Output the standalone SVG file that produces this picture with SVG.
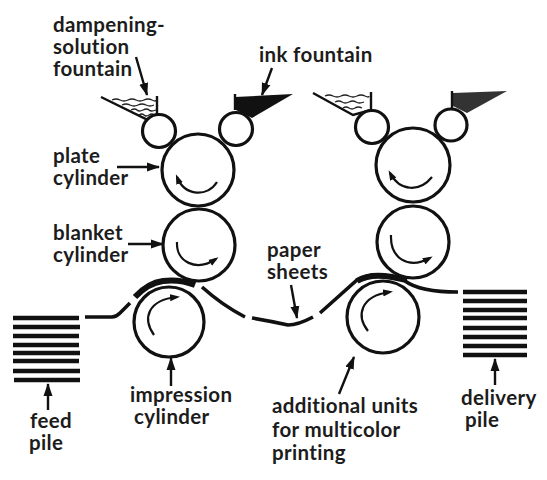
<svg xmlns="http://www.w3.org/2000/svg" width="547" height="480" viewBox="0 0 547 480">
<style>
text{font-family:"Lato","Open Sans",sans-serif;font-size:20.5px;font-weight:700;letter-spacing:.35px;fill:#1c1c1c}
.c{fill:#fff;stroke:#111;stroke-width:3.2}
.a{fill:none;stroke:#111;stroke-width:2.2}
.l{fill:none;stroke:#111;stroke-width:2.4}
.p{fill:none;stroke:#111;stroke-width:3.6}
.t{fill:none;stroke:#111;stroke-width:6}
.s{fill:none;stroke:#111;stroke-width:4.5}
.w{fill:none;stroke:#222;stroke-width:1.3}
.h{fill:#111}
.d{fill:#333}
</style>
<defs>
<marker id="m" markerUnits="userSpaceOnUse" markerWidth="13" markerHeight="10" refX="12" refY="5" orient="auto"><path d="M0 0.5L13 5L0 9.5z" fill="#111"/></marker>
<marker id="n" markerUnits="userSpaceOnUse" markerWidth="10" markerHeight="8" refX="7" refY="4" orient="auto-start-reverse"><path d="M0 0.5L10 4L0 7.5z" fill="#111"/></marker>
</defs>
<rect width="547" height="480" fill="#fff"/>
<g id="connectors">
<path class="l" marker-end="url(#m)" d="M136 57L147 95"/>
<path class="l" marker-end="url(#m)" d="M272 68L262 95"/>
<path class="l" marker-end="url(#m)" d="M117 167L159 167"/>
<path class="l" marker-end="url(#m)" d="M128 244L163 244"/>
<path class="l" marker-end="url(#m)" d="M171 386L171 358"/>
<path class="l" marker-end="url(#m)" d="M48 410L48 384"/>
<path class="l" marker-end="url(#m)" d="M291 285L297 318"/>
<path class="l" marker-end="url(#m)" d="M339 394L354 357"/>
<path class="l" marker-end="url(#m)" d="M495 385L495 359"/>
</g>
<g id="dampening-fountain-1">
<path class="l" d="M101 97L148 120L157 114V96"/>
<path class="w" d="M112 100q4-2 8 0t8 0t8 0t8 0t8 0t4 0M122 105q4-2 8 0t8 0t8 0t8 0M131 110q4-2 6 0t6 0t6 0t7 0M139 115q3-2 5 0t5 0t5 0"/>
</g>
<g id="ink-fountain-1">
<path class="h" d="M235 97L293 94L252 118L236 110z"/>
<path class="l" d="M235 94V110"/>
</g>
<g id="dampening-fountain-2">
<path class="l" d="M313 93L353 115L371 110V92"/>
<path class="w" d="M325 96q4-2 8 0t8 0t8 0t8 0t8 0t4 0M335 102q4-2 7 0t7 0t7 0t8 0M343 108q3-2 6 0t6 0t7 0"/>
</g>
<g id="ink-fountain-2">
<path class="d" d="M453 93L507 91L467 113L453 106z"/>
<path class="l" d="M452 91V108"/>
</g>
<g id="fountain-roller-1"><circle class="c" cx="159" cy="131" r="16.5"/></g>
<g id="fountain-roller-2"><circle class="c" cx="236" cy="129" r="16.5"/></g>
<g id="fountain-roller-3"><circle class="c" cx="372" cy="127" r="16.5"/></g>
<g id="fountain-roller-4"><circle class="c" cx="451" cy="125" r="16"/></g>
<g id="plate-cylinder-1"><circle class="c" cx="198" cy="170" r="36"/>
<path class="a" marker-start="url(#n)" d="M177 177C185 197 208 197 217 182"/></g>
<g id="blanket-cylinder-1"><circle class="c" cx="199" cy="245" r="36"/>
<path class="a" marker-end="url(#n)" d="M177 242C176 262 196 272 216 259"/></g>
<g id="impression-cylinder-1"><circle class="c" cx="169" cy="322" r="35"/>
<path class="a" marker-end="url(#n)" d="M154 335C142 318 148 300 177 297"/></g>
<g id="plate-cylinder-2"><circle class="c" cx="413" cy="165" r="37"/>
<path class="a" marker-start="url(#n)" d="M390 173C400 192 420 192 432 177"/></g>
<g id="blanket-cylinder-2"><circle class="c" cx="413" cy="242" r="36"/>
<path class="a" marker-end="url(#n)" d="M391 235C390 258 408 270 430 258"/></g>
<g id="impression-cylinder-2"><circle class="c" cx="383" cy="317" r="36"/>
<path class="a" marker-end="url(#n)" d="M368 331C356 316 360 296 390 292"/></g>
<g id="paper-sheets">
<path class="p" d="M85 317L112 317Q116 317 120 313L130 303"/>
<path class="t" d="M135 297Q148 283 163 281Q180 279 195 285"/>
<path class="p" d="M202 287Q222 305 245 317"/>
<path class="p" d="M252 318Q270 321 288 325Q298 325 313 317"/>
<path class="p" d="M320 313L357 280Q366 275 377 275"/>
<path class="t" d="M357 281Q370 273 392 277L407 280"/>
<path class="p" d="M405 281Q420 292 458 292"/>
</g>
<g id="feed-pile">
<path class="s" d="M13 318H79M13 327H80M13 336H79M13 345H79M13 353H80M13 361H79M13 371H80M14 380H80"/>
</g>
<g id="delivery-pile">
<path class="s" d="M463 292H527M463 301H527M463 310H527M463 318H527M463 328H527M463 337H527M463 346H527M463 355H527"/>
</g>
<g id="labels">
<text x="53" y="32">dampening-</text>
<text x="53" y="54">solution</text>
<text x="53" y="76">fountain</text>
<text x="259" y="62">ink fountain</text>
<text x="53" y="163">plate</text>
<text x="53" y="185">cylinder</text>
<text x="53" y="240">blanket</text>
<text x="53" y="262">cylinder</text>
<text x="130" y="402">impression</text>
<text x="134" y="424">cylinder</text>
<text x="30" y="428">feed</text>
<text x="29" y="450">pile</text>
<text x="267" y="257">paper</text>
<text x="267" y="279">sheets</text>
<text x="272" y="413">additional units</text>
<text x="272" y="437">for multicolor</text>
<text x="272" y="460">printing</text>
<text x="461" y="405">delivery</text>
<text x="465" y="427">pile</text>
</g>
</svg>
